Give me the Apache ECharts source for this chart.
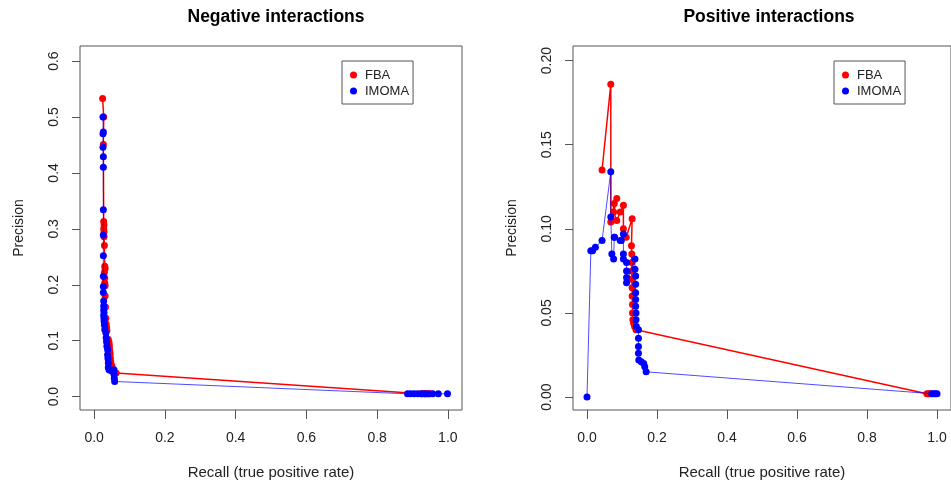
<!DOCTYPE html>
<html>
<head>
<meta charset="utf-8">
<script src="https://cdn.jsdelivr.net/npm/echarts@6/dist/echarts.min.js"></script>
<style>
html,body{margin:0;padding:0;background:#fff;}
#chart{width:951px;height:485px;}
</style>
</head>
<body>
<div id="chart"></div>
<script>
// ---- Data ----
const titles = ['Negative interactions', 'Positive interactions'];
const seriesNames = ['FBA', 'IMOMA'];
const xTicks = [0, 0.2, 0.4, 0.6, 0.8, 1.0];
const yTicksNeg = [0, 0.1, 0.2, 0.3, 0.4, 0.5, 0.6];
const yTicksPos = [0, 0.05, 0.10, 0.15, 0.20];

const negFbaRecall = [0.024,0.027,0.026,0.027,0.028,0.027,0.028,0.028,0.029,0.030,0.031,0.029,0.030,0.030,0.031,0.031,0.032,0.033,0.034,0.035,0.036,0.040,0.042,0.043,0.043,0.044,0.045,0.045,0.046,0.047,0.050,0.053,0.062,0.925,0.930,0.935,0.940,0.945,0.950];
const negFbaPrecision = [0.533,0.500,0.451,0.313,0.307,0.300,0.295,0.286,0.270,0.233,0.229,0.222,0.212,0.203,0.198,0.180,0.160,0.140,0.130,0.124,0.118,0.102,0.097,0.092,0.087,0.082,0.078,0.073,0.068,0.062,0.055,0.048,0.042,0.005,0.005,0.005,0.005,0.005,0.005];

const negImomaRecall = [0.025,0.026,0.025,0.025,0.026,0.026,0.026,0.026,0.026,0.026,0.026,0.026,0.027,0.027,0.027,0.028,0.027,0.028,0.028,0.029,0.030,0.033,0.034,0.035,0.036,0.038,0.038,0.039,0.040,0.040,0.042,0.048,0.056,0.056,0.057,0.058,0.886,0.895,0.905,0.915,0.925,0.935,0.945,0.957,0.973,0.999];
const negImomaPrecision = [0.500,0.473,0.470,0.446,0.429,0.410,0.334,0.289,0.252,0.215,0.197,0.186,0.171,0.162,0.155,0.150,0.145,0.140,0.135,0.128,0.120,0.114,0.105,0.098,0.090,0.084,0.075,0.068,0.060,0.052,0.048,0.046,0.048,0.040,0.033,0.027,0.005,0.005,0.005,0.005,0.005,0.005,0.005,0.005,0.005,0.005];

const posFbaRecall = [0.043,0.068,0.068,0.078,0.085,0.076,0.085,0.095,0.104,0.104,0.112,0.129,0.127,0.128,0.128,0.128,0.128,0.129,0.129,0.130,0.130,0.131,0.133,0.136,0.140,0.971,0.976,0.981];
const posFbaPrecision = [0.135,0.186,0.104,0.115,0.118,0.110,0.105,0.110,0.114,0.100,0.095,0.106,0.090,0.085,0.080,0.075,0.070,0.065,0.060,0.055,0.050,0.046,0.044,0.042,0.040,0.002,0.002,0.002];

const posImomaRecall = [0.000,0.011,0.016,0.024,0.043,0.068,0.068,0.071,0.076,0.078,0.079,0.095,0.098,0.104,0.104,0.104,0.113,0.113,0.113,0.113,0.137,0.137,0.139,0.139,0.139,0.139,0.139,0.140,0.140,0.141,0.147,0.147,0.147,0.147,0.148,0.155,0.162,0.165,0.169,0.985,0.990,0.995,1.000];
const posImomaPrecision = [0.000,0.087,0.087,0.089,0.093,0.134,0.107,0.085,0.082,0.095,0.095,0.093,0.093,0.097,0.085,0.082,0.080,0.075,0.071,0.068,0.082,0.076,0.072,0.067,0.062,0.058,0.054,0.050,0.046,0.042,0.040,0.035,0.030,0.026,0.022,0.021,0.020,0.018,0.015,0.002,0.002,0.002,0.002];

// ---- Build chart ----
const zip = (a, b) => a.map((v, i) => [v, b[i]]);
const FONT = '"Liberation Sans", Arial, sans-serif';
const RED = '#ff0000', BLUE = '#0000ff';
const AXC = '#555';

function xAxisDef(gi) {
  return {
    type: 'value', gridIndex: gi, min: -0.04, max: 1.04,
    name: 'Recall (true positive rate)', nameLocation: 'middle', nameGap: 55,
    nameTextStyle: { fontFamily: FONT, fontSize: 15, color: '#222' },
    axisLine: { show: false, onZero: false },
    splitLine: { show: false },
    axisTick: { show: true, length: 9, customValues: xTicks, lineStyle: { color: AXC } },
    axisLabel: { customValues: xTicks, margin: 21, fontFamily: FONT, fontSize: 14, color: '#222',
      formatter: v => v.toFixed(1) }
  };
}
function yAxisDef(gi, ticks, min, max, dec) {
  return {
    type: 'value', gridIndex: gi, min: min, max: max,
    name: 'Precision', nameLocation: 'middle', nameGap: 54,
    nameTextStyle: { fontFamily: FONT, fontSize: 14, color: '#222' },
    axisLine: { show: false, onZero: false },
    splitLine: { show: false },
    axisTick: { show: true, length: 8, customValues: ticks, lineStyle: { color: AXC } },
    axisLabel: { customValues: ticks, rotate: 90, margin: 19, fontFamily: FONT, fontSize: 14, color: '#222',
      formatter: v => v.toFixed(dec) }
  };
}
function seriesDef(name, gi, rec, prec, color, lw, op) {
  return {
    type: 'line', name: name, xAxisIndex: gi, yAxisIndex: gi,
    data: zip(rec, prec),
    symbol: 'circle', symbolSize: 7, showSymbol: true,
    itemStyle: { color: color },
    lineStyle: { color: color, width: lw, opacity: op },
    emphasis: { disabled: true },
    z: name === 'IMOMA' ? 3 : 2
  };
}
function legendDef(left) {
  return {
    left: left, top: 61, orient: 'vertical', data: seriesNames,
    icon: 'circle', itemWidth: 7, itemHeight: 7, itemGap: 2,
    padding: [7, 4, 6, 8],
    borderColor: AXC, borderWidth: 1, selectedMode: false,
    textStyle: { fontFamily: FONT, fontSize: 13, color: '#222', padding: [0, 0, 0, 3], lineHeight: 14 }
  };
}

const chart = echarts.init(document.getElementById('chart'), null, { renderer: 'canvas' });
chart.setOption({
  animation: false,
  backgroundColor: '#fff',
  title: [
    { text: titles[0], left: 271, top: 3, textAlign: 'center',
      textStyle: { fontFamily: FONT, fontSize: 17.5, fontWeight: 'bold', color: '#000' } },
    { text: titles[1], left: 764, top: 3, textAlign: 'center',
      textStyle: { fontFamily: FONT, fontSize: 17.5, fontWeight: 'bold', color: '#000' } }
  ],
  legend: [legendDef(342), legendDef(834)],
  grid: [
    { left: 80, top: 46, width: 382, height: 364, show: true, borderColor: AXC, borderWidth: 1, backgroundColor: 'transparent' },
    { left: 573, top: 46, width: 382, height: 364, show: true, borderColor: AXC, borderWidth: 1, backgroundColor: 'transparent' }
  ],
  xAxis: [xAxisDef(0), xAxisDef(1)],
  yAxis: [yAxisDef(0, yTicksNeg, -0.024, 0.627, 1), yAxisDef(1, yTicksPos, -0.0077, 0.2087, 2)],
  series: [
    seriesDef('FBA', 0, negFbaRecall, negFbaPrecision, RED, 1.5, 1),
    seriesDef('IMOMA', 0, negImomaRecall, negImomaPrecision, BLUE, 1, 0.7),
    seriesDef('FBA', 1, posFbaRecall, posFbaPrecision, RED, 1.5, 1),
    seriesDef('IMOMA', 1, posImomaRecall, posImomaPrecision, BLUE, 1, 0.7)
  ]
});
</script>
</body>
</html>
